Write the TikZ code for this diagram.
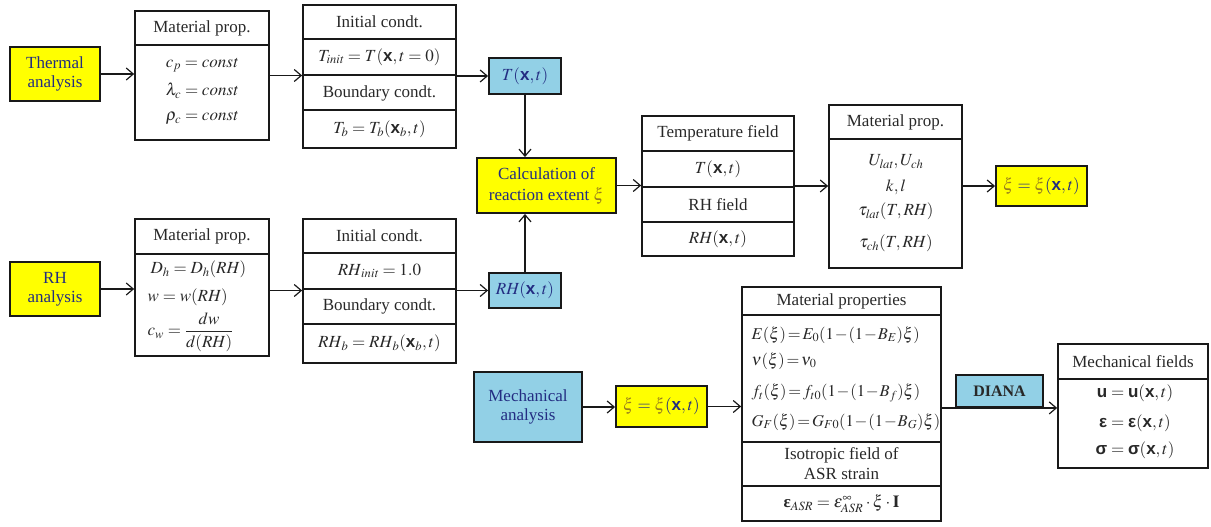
\documentclass[tikz,border=0pt]{standalone}
\usepackage{amsmath}
\usepackage{mathptmx}
\usepackage[no-math]{fontspec}
\setmainfont{Liberation Serif}
\setsansfont{Liberation Sans}
\usetikzlibrary{arrows.meta,fit}

\definecolor{boxyellow}{RGB}{255,255,0}
\definecolor{boxblue}{RGB}{146,208,230}
\definecolor{navytext}{RGB}{35,45,130}
\definecolor{xicol}{RGB}{150,125,30}
\definecolor{inkline}{RGB}{25,25,25}
\definecolor{inktext}{RGB}{40,40,40}

% bold upright vector symbols
\newcommand{\bv}[1]{\text{\sffamily\bfseries #1}}
\newcommand{\gxi}{{\color{xicol}\xi}}
% property formula with tight math spacing
\newcommand{\propeq}[1]{$\medmuskip=1mu\thickmuskip=2mu #1$}

% a plain frame given by its corners
\newcommand{\frameat}[5]{%
  \path (#2,#3) coordinate (#1-nw) (#4,#5) coordinate (#1-se);
  \node[frame, fit=(#1-nw)(#1-se)] (#1) {};}
% a horizontal rule across a frame at height #2
\newcommand{\divider}[2]{\draw[rule] (#1.west |- 0,#2) -- (#1.east |- 0,#2);}

\tikzset{
  every node/.style={font=\fontsize{17}{20}\selectfont, text=inktext, inner sep=0.5pt},
  frame/.style={draw=inkline, line width=1.7pt, inner sep=0pt},
  rule/.style={draw=inkline, line width=1.6pt},
  ybox/.style={draw=inkline, line width=1.9pt, fill=boxyellow, align=center,
    inner sep=0pt, text=navytext},
  bbox/.style={draw=inkline, line width=1.9pt, fill=boxblue, align=center,
    inner sep=0pt, text=navytext},
  prop/.style={anchor=west, font=\fontsize{16.5}{20}\selectfont},
  arr/.style={draw=inkline, line width=1.2pt,
    -{Straight Barb[length=7pt,width=12pt,line width=1.2pt]}},
}

\begin{document}
\begin{tikzpicture}[x=1pt,y=-1pt]
\useasboundingbox (0,0) rectangle (1211,527);

% ---------- thermal branch ----------
\node[ybox, minimum width=90pt, minimum height=54pt] (thermal) at (55,74)
  {Thermal\\[-1pt]analysis};

\frameat{m1}{135}{11}{269}{140}
\divider{m1}{45}
\node (m1h) at (202,28) {Material prop.};
\node (m1a) at (202,65) {$c_p = \mathit{const}$};
\node (m1b) at (202,91) {$\lambda_c = \mathit{const}$};
\node (m1c) at (202,118) {$\rho_c = \mathit{const}$};

\frameat{i1}{303}{5}{456}{148}
\divider{i1}{39}
\divider{i1}{75}
\divider{i1}{110}
\node (i1h) at (379.5,22) {Initial condt.};
\node (i1a) at (379.5,57) {$T_{\mathit{init}} = T(\bv{x},t=0)$};
\node (i1b) at (379.5,93) {Boundary condt.};
\node (i1c) at (379.5,129) {$T_b = T_b(\bv{x}_b,t)$};

\node[bbox, minimum width=72pt, minimum height=36pt] (tbox) at (525,76)
  {$T(\bv{x},t)$};

% ---------- RH branch ----------
\node[ybox, minimum width=90pt, minimum height=54pt] (rhan) at (55,289)
  {RH\\[-1pt]analysis};

\frameat{m3}{135}{219}{269}{356}
\divider{m3}{254}
\node (m3h) at (202,236.5) {Material prop.};
\node[anchor=west] (m3a) at (150,269) {$D_h = D_h(\mathit{RH})$};
\node[anchor=west] (m3b) at (147,297) {$w = w(\mathit{RH})$};
\node[anchor=west] (m3c) at (147,332) {$c_w = \dfrac{dw}{d(\mathit{RH})}$};

\frameat{i2}{303}{219}{456}{363}
\divider{i2}{253}
\divider{i2}{289}
\divider{i2}{324}
\node (i2h) at (379.5,236) {Initial condt.};
\node (i2a) at (379.5,271) {$\mathit{RH}_{\mathit{init}} = 1.0$};
\node (i2b) at (379.5,306.5) {Boundary condt.};
\node (i2c) at (379.5,343.5) {$\mathit{RH}_b = \mathit{RH}_b(\bv{x}_b,t)$};

\node[bbox, minimum width=72pt, minimum height=35pt] (rhbox) at (525,290.5)
  {$\mathit{RH}(\bv{x},t)$};

% ---------- reaction extent ----------
\node[ybox, minimum width=139pt, minimum height=55pt] (calc) at (546.5,185.5)
  {Calculation of\\[1pt]reaction extent $\gxi$};

\frameat{tf}{642}{116}{794}{256}
\divider{tf}{151}
\divider{tf}{187}
\divider{tf}{222}
\node (tfh) at (718,133.5) {Temperature field};
\node (tfa) at (718,169) {$T(\bv{x},t)$};
\node (tfb) at (718,204.5) {RH field};
\node (tfc) at (718,239) {$\mathit{RH}(\bv{x},t)$};

\frameat{m2}{829}{105}{962}{268}
\divider{m2}{139}
\node (m2h) at (895.5,122) {Material prop.};
\node (m2a) at (896,162) {$U_{\mathit{lat}}, U_{\mathit{ch}}$};
\node (m2b) at (896,187) {$k,l$};
\node (m2c) at (896,211) {$\tau_{\mathit{lat}}(T,\mathit{RH})$};
\node (m2d) at (896,243) {$\tau_{\mathit{ch}}(T,\mathit{RH})$};

\node[ybox, minimum width=91pt, minimum height=40pt] (xi1) at (1041.5,186)
  {$\gxi = \gxi(\bv{x},t)$};

% ---------- mechanical branch ----------
\node[bbox, minimum width=108pt, minimum height=70pt] (mech) at (528,407)
  {Mechanical\\[-1pt]analysis};

\node[ybox, minimum width=91pt, minimum height=41pt] (xi2) at (661.5,406.5)
  {$\gxi = \gxi(\bv{x},t)$};

\frameat{mp}{742}{287}{941}{521}
\divider{mp}{315}
\divider{mp}{442}
\divider{mp}{486}
\node (mph) at (841.5,301) {Material properties};
\node[prop] (mpa) at (751,335) {\propeq{E(\xi) = E_0(1-(1-B_E)\xi)}};
\node[prop] (mpb) at (751,361) {\propeq{\nu(\xi) = \nu_0}};
\node[prop] (mpc) at (751,393) {\propeq{f_t(\xi) = f_{t0}(1-(1-B_f)\xi)}};
\node[prop] (mpd) at (751,422) {\propeq{G_F(\xi) = G_{F0}(1-(1-B_G)\xi)}};
\node[align=center] (mpe) at (841.5,464) {Isotropic field of\\ASR strain};
\node (mpf) at (841.5,504)
  {$\text{\bfseries ε}_{\mathit{ASR}} = \epsilon^{\infty}_{\mathit{ASR}}\cdot\xi\cdot\mathbf{I}$};

\node[bbox, minimum width=87pt, minimum height=32pt, text=inktext,
  font=\fontsize{16}{20}\selectfont\bfseries] (diana) at (999.5,391) {DIANA};

\frameat{mf}{1058}{344}{1208}{468}
\divider{mf}{379}
\node (mfh) at (1133,361.5) {Mechanical fields};
\node (mfa) at (1135,393) {$\bv{u} = \bv{u}(\bv{x},t)$};
\node (mfb) at (1135,423) {$\bv{ε} = \bv{ε}(\bv{x},t)$};
\node (mfc) at (1135,450) {$\bv{σ} = \bv{σ}(\bv{x},t)$};

% ---------- connectors ----------
\draw[arr] (thermal.east) -- (thermal.east -| m1.west);
\draw[arr] (m1.east) -- (m1.east -| i1.west);
\draw[arr] (i1.east |- tbox.west) -- (tbox.west);
\draw[arr] (tbox.south) -- (tbox.south |- calc.north);
\draw[arr] (rhan.east) -- (rhan.east -| m3.west);
\draw[arr] (m3.east |- rhbox.west) -- (rhbox.west -| i2.west);
\draw[arr] (i2.east |- rhbox.west) -- (rhbox.west);
\draw[arr] (rhbox.north) -- (rhbox.north |- calc.south);
\draw[arr] (calc.east) -- (calc.east -| tf.west);
\draw[arr] (tf.east) -- (tf.east -| m2.west);
\draw[arr] (m2.east |- xi1.west) -- (xi1.west);
\draw[arr] (mech.east) -- (mech.east -| xi2.west);
\draw[arr] (xi2.east) -- (xi2.east -| mp.west);
\draw[arr] (mp.east |- diana.south) -- (diana.south -| mf.west);
\end{tikzpicture}
\end{document}
